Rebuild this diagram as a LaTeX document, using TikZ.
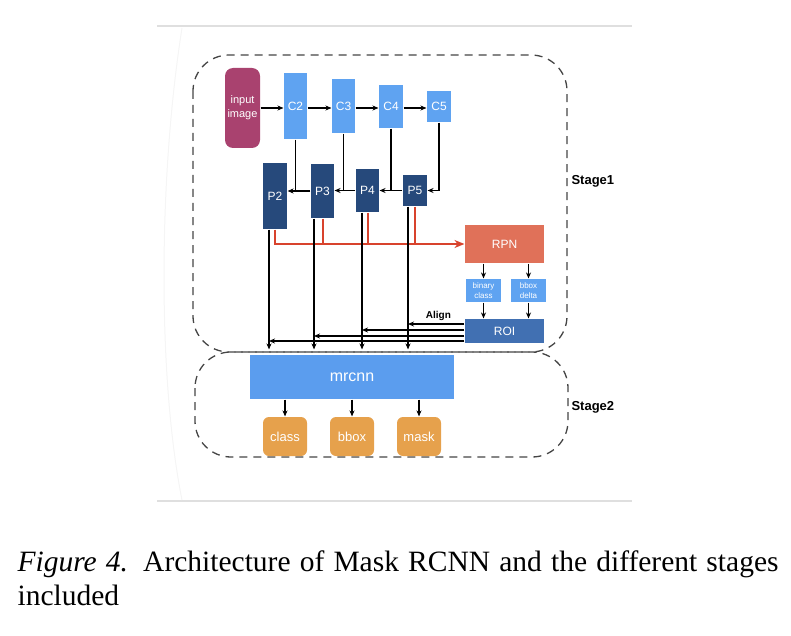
\documentclass[tikz,border=0pt]{standalone}
\usepackage{fontspec}
\setmainfont{Liberation Serif}
\setsansfont{Liberation Sans}
\usetikzlibrary{arrows.meta}

\definecolor{inputcol}{HTML}{A9426F}
\definecolor{ccol}{HTML}{5FA3F1}
\definecolor{pcol}{HTML}{26497B}
\definecolor{rpncol}{HTML}{E07159}
\definecolor{redline}{HTML}{D8432D}
\definecolor{roicol}{HTML}{4170B2}
\definecolor{mrcol}{HTML}{5B9DEE}
\definecolor{outcol}{HTML}{E6A14C}
\definecolor{stagecol}{HTML}{454545}

\begin{document}
\begin{tikzpicture}[x=1pt,y=-1pt,line width=1.1pt,
    box/.style args={#1:#2:#3}{fill=#1,text=white,inner sep=0pt,
            minimum width=#2,minimum height=#3,
            font=\sffamily\fontsize{12}{12}\selectfont},
    arr/.style={-{Stealth[length=6pt,width=5pt]}},
    redarr/.style={redline,line width=2pt},
    stage/.style={stagecol,line width=1.3pt,dash pattern=on 8pt off 6pt,rounded corners=36pt},
    stagelabel/.style={anchor=west,inner sep=0pt,font=\sffamily\bfseries\fontsize{13}{13}\selectfont}]
    \useasboundingbox (0,0) rectangle (791,636);
    % frame of the screenshot
    \draw[gray!25,line width=1.5pt] (157,26) -- (632,26);
    \draw[gray!25,line width=1.5pt] (157,501) -- (632,501);
    \draw[gray!8,line width=1pt] (182,28) .. controls (158,180) and (158,380) .. (182,500);
    % stages
    \draw[stage] (193,55) rectangle (567,352);
    \draw[stage] (195,352) rectangle (568,457);
    \node[stagelabel] (s1) at (571,181) {Stage1};
    \node[stagelabel] (s2) at (571,407) {Stage2};
    % backbone
    \node[box=inputcol:35pt:80pt,rounded corners=8pt,align=center,
        font=\sffamily\fontsize{11}{14}\selectfont] (inp) at (242.5,108) {input\\image};
    \node[box=ccol:23pt:66pt] (c2) at (295.5,106) {C2};
    \node[box=ccol:23pt:54pt] (c3) at (343.5,106) {C3};
    \node[box=ccol:24pt:43pt] (c4) at (391,106.5) {C4};
    \node[box=ccol:24pt:31pt] (c5) at (439,106.5) {C5};
    \node[box=pcol:24pt:66pt] (p2) at (275,196) {P2};
    \node[box=pcol:23pt:54pt] (p3) at (322.5,191) {P3};
    \node[box=pcol:23pt:43pt] (p4) at (367.5,190.5) {P4};
    \node[box=pcol:24pt:31pt] (p5) at (415,190.5) {P5};
    % rpn and roi
    \node[box=rpncol:79pt:38pt] (rpn) at (504.5,244) {RPN};
    \node[box=ccol:35pt:23pt,align=center,font=\sffamily\fontsize{8}{10}\selectfont] (bin) at (483.5,290.5) {binary\\class};
    \node[box=ccol:35pt:23pt,align=center,font=\sffamily\fontsize{8}{10}\selectfont] (bdel) at (528.5,290.5) {bbox\\delta};
    \node[box=roicol:79pt:24pt] (roi) at (504.5,331) {ROI};
    % stage 2
    \node[box=mrcol:204pt:44pt,font=\sffamily\fontsize{16}{16}\selectfont] (mrcnn) at (352,377) {mrcnn};
    \node[box=outcol:44pt:39pt,rounded corners=6pt,font=\sffamily\fontsize{13}{13}\selectfont] (cls) at (285,436.5) {class};
    \node[box=outcol:44pt:39pt,rounded corners=6pt,font=\sffamily\fontsize{13}{13}\selectfont] (bbx) at (352,436.5) {bbox};
    \node[box=outcol:44pt:39pt,rounded corners=6pt,font=\sffamily\fontsize{13}{13}\selectfont] (msk) at (419,436.5) {mask};
    % bottom-up path
    \draw[arr] (inp.east) -- (inp.east -| c2.west);
    \draw[arr] (c2.east |- inp.east) -- (inp.east -| c3.west);
    \draw[arr] (c3.east |- inp.east) -- (inp.east -| c4.west);
    \draw[arr] (c4.east |- inp.east) -- (inp.east -| c5.west);
    % top-down path
    \draw[arr] (c5.south) |- (p5.east);
    \draw[arr] (p5.west) -- (p5.west -| p4.east);
    \draw[arr] (p4.west) -- (p4.west -| p3.east);
    \draw[arr] (p3.west) -- (p3.west -| p2.east);
    \draw (c4.south) -- (c4.south |- p5.west);
    \draw (c3.south) -- (c3.south |- p4.west);
    \draw (c2.south) -- (c2.south |- p3.west);
    % features to rpn
    \draw[redarr,-{Stealth[length=10pt,width=8pt]}] (p2.south) |- (rpn.west);
    \draw[redarr] (p3.south) -- (p3.south |- rpn.west);
    \draw[redarr] (p4.south) -- (p4.south |- rpn.west);
    \draw[redarr] (p5.south) -- (p5.south |- rpn.west);
    % rpn heads
    \draw[arr] (rpn.south -| bin.north) -- (bin.north);
    \draw[arr] (rpn.south -| bdel.north) -- (bdel.north);
    \draw[arr] (bin.south) -- (bin.south |- roi.north);
    \draw[arr] (bdel.south) -- (bdel.south |- roi.north);
    % features to mrcnn
    \coordinate (l2) at ([xshift=-6pt]p2.south);
    \coordinate (l3) at ([xshift=-8.5pt]p3.south);
    \coordinate (l4) at ([xshift=-5.5pt]p4.south);
    \coordinate (l5) at ([xshift=-7pt]p5.south);
    \foreach \l in {l2,l3,l4,l5}
        \draw[arr,shorten >=5pt] (\l) -- (\l |- mrcnn.north);
    % roi align
    \coordinate (r5) at ([yshift=7pt]roi.west);
    \coordinate (r4) at ([yshift=1pt]roi.west);
    \coordinate (r3) at ([yshift=-5pt]roi.west);
    \coordinate (r2) at ([yshift=-10pt]roi.west);
    \foreach \i in {2,3,4,5}
        \draw[arr] (r\i) -- (r\i -| l\i);
    \node[anchor=south east,inner sep=1pt,font=\sffamily\bfseries\fontsize{10}{10}\selectfont] (align) at ([xshift=-12pt,yshift=2pt]r5) {Align};
    % outputs
    \draw[arr] (mrcnn.south -| cls.north) -- (cls.north);
    \draw[arr] (mrcnn.south -| bbx.north) -- (bbx.north);
    \draw[arr] (mrcnn.south -| msk.north) -- (msk.north);
    % caption
    \node[anchor=base west,inner sep=0pt,font=\fontsize{29.5}{34}\selectfont] (cap1) at (17,571) {\makebox[761pt][s]{\textit{Figure 4.} Architecture of Mask RCNN and the different stages}};
    \node[anchor=base west,inner sep=0pt,font=\fontsize{29.5}{34}\selectfont] (cap2) at (17,605) {included};
\end{tikzpicture}
\end{document}
